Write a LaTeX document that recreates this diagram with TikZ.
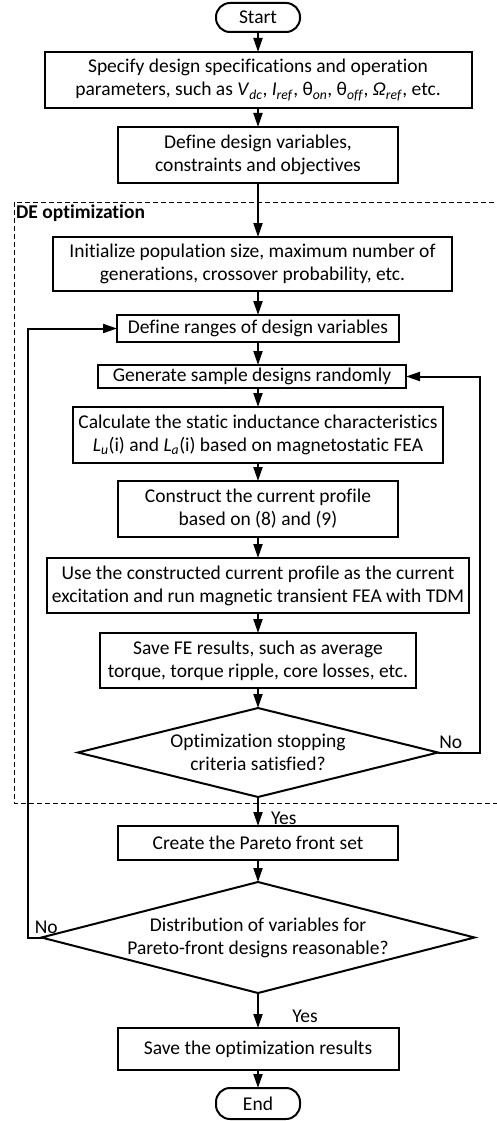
\documentclass[tikz,border=0pt]{standalone}
\usepackage{fontspec}
\setmainfont[Ligatures=CommonOff]{Carlito}
\usepackage{tikz}
\usetikzlibrary{shapes.geometric, arrows.meta, positioning}

\begin{document}
\begin{tikzpicture}[
    font=\fontsize{19.5}{23}\selectfont,
    block/.style={rectangle, draw, line width=2pt, align=center, inner sep=1pt, outer sep=0pt},
    decision/.style={diamond, draw, line width=2pt, align=center, inner sep=0pt, outer sep=0pt},
    terminal/.style={rectangle, rounded corners=14pt, draw, line width=2pt, minimum width=84pt, inner sep=1pt, outer sep=0pt},
    arrow/.style={line width=2pt, -{Triangle[length=14pt, width=9pt]}},
    frame/.style={line width=1pt, dash pattern=on 5pt off 3pt}
]
\useasboundingbox (0pt,0pt) rectangle (497pt,-1121pt);

% Nodes
\node (start) [terminal, minimum height=29pt] at (258pt,-17.5pt) {Start};
\node (spec) [block, minimum width=427pt, minimum height=56pt, below=20pt of start] {Specify design specifications and operation\\parameters, such as \textit{V}\textsubscript{\textit{dc}}, \textit{I}\textsubscript{\textit{ref}}, θ\textsubscript{\textit{on}}, θ\textsubscript{\textit{off}}, \textit{Ω}\textsubscript{\textit{ref}}, etc.};
\node (define) [block, minimum width=280pt, minimum height=56pt, below=19pt of spec] {Define design variables,\\constraints and objectives};
\node (init) [block, minimum width=399pt, minimum height=54pt, below=54pt of define, xshift=-5.5pt] {Initialize population size, maximum number of\\generations, crossover probability, etc.};
\node (ranges) [block, minimum width=282pt, minimum height=27pt, below=24pt of init, xshift=5.5pt] {Define ranges of design variables};
\node (generate) [block, minimum width=308pt, minimum height=23pt, below=23pt of ranges, xshift=-6pt] {Generate sample designs randomly};
\node (calc) [block, minimum width=370pt, minimum height=56pt, below=19pt of generate, xshift=6pt] {Calculate the static inductance characteristics\\\textit{L}\textsubscript{\textit{u}}(i) and \textit{L}\textsubscript{\textit{a}}(i) based on magnetostatic FEA};
\node (construct) [block, minimum width=280pt, minimum height=56pt, below=18pt of calc] {Construct the current profile\\based on (8) and (9)};
\node (use) [block, minimum width=422pt, minimum height=55pt, below=21pt of construct] {Use the constructed current profile as the current\\excitation and run magnetic transient FEA with TDM};
\node (savefe) [block, minimum width=316pt, minimum height=55pt, below=20pt of use] {Save FE results, such as average\\torque, torque ripple, core losses, etc.};
\node (stop) [decision, aspect=4, minimum width=360pt, minimum height=89pt, below=20pt of savefe] {Optimization stopping\\criteria satisfied?};
\node (pareto) [block, minimum width=280pt, minimum height=34pt, below=29pt of stop] {Create the Pareto front set};
\node (check) [decision, aspect=3.9, minimum width=433pt, minimum height=111pt, below=22pt of pareto] {Distribution of variables for\\Pareto-front designs reasonable?};
\node (save) [block, minimum width=281pt, minimum height=42pt, below=35pt of check] {Save the optimization results};
\node (end) [terminal, minimum height=31pt, below=18pt of save] {End};

% DE optimization frame
\draw [frame] (14pt,-202pt) rectangle (505pt,-803pt);
\node (delabel) [anchor=north west, inner sep=2pt, font=\fontsize{19.5}{23}\selectfont\bfseries] at (14pt,-203pt) {DE optimization};

% Arrows
\draw [arrow] (start) -- (spec);
\draw [arrow] (spec) -- (define);
\draw [arrow] (define.south) -- (define.south |- init.north);
\draw [arrow] (ranges.north |- init.south) -- (ranges.north);
\draw [arrow] (ranges.south) -- (ranges.south |- generate.north);
\draw [arrow] (calc.north |- generate.south) -- (calc.north);
\draw [arrow] (calc) -- (construct);
\draw [arrow] (construct) -- (use);
\draw [arrow] (use) -- (savefe);
\draw [arrow] (savefe) -- (stop);
\draw [arrow] (stop) -- node[right, pos=0.72, xshift=8.7pt] {Yes} (pareto);
\draw [arrow] (pareto) -- (check);
\draw [arrow] (check) -- node[right, pos=0.66, xshift=30pt] {Yes} (save);
\draw [arrow] (save) -- (end);
\draw [arrow] (stop.east) node[above right, xshift=-3pt] {No} -- ++(42pt,0) |- (generate.east);
\draw [arrow] (check.west) -- ++(-14pt,0) node[above right, xshift=3pt] {No} |- (ranges.west);

\end{tikzpicture}
\end{document}
